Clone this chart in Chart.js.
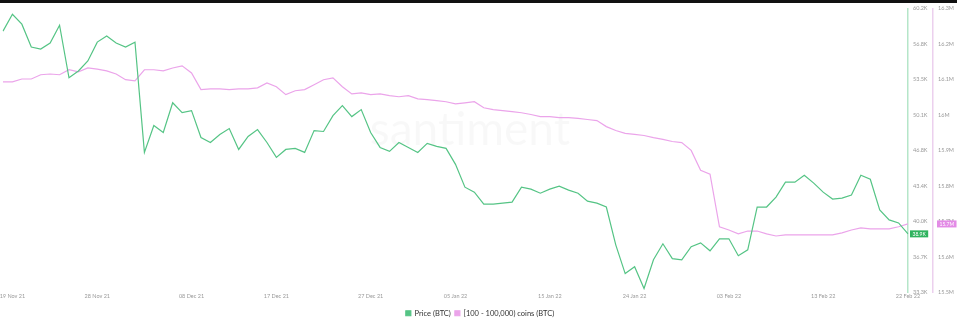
<!DOCTYPE html>
<html>
<head>
<meta charset="utf-8">
<script src="https://cdn.jsdelivr.net/npm/chart.js@4/dist/chart.umd.min.js"></script>
<style>
  html, body { margin: 0; padding: 0; background: #fff; }
  #wrap { position: relative; width: 957px; height: 324px; }
  #topbar { position: absolute; left: 0; top: 0; width: 957px; height: 3px; background: #111; }
</style>
</head>
<body>
<div id="wrap">
  <canvas id="chart" width="957" height="324"></canvas>
  <div id="topbar"></div>
</div>
<script>
// Tick labels shown on the x axis
const tickLabels = ['19 Nov 21', '28 Nov 21', '08 Dec 21', '17 Dec 21', '27 Dec 21', '05 Jan 22',
  '15 Jan 22', '24 Jan 22', '03 Feb 22', '13 Feb 22', '22 Feb 22'];

// Axis ranges (price in K USD, holdings in M BTC)
const priceRange = [33.3, 60.2];
const coinsRange = [15.5, 16.3];

// Daily BTC price, 18 Nov 21 -> 22 Feb 22 (thousands)
const priceBtc = [
  58.04, 59.64, 58.70, 56.53, 56.34, 56.91, 58.60, 53.62, 54.27, 55.21,
  57.00, 57.57, 56.91, 56.53, 57.00, 46.56, 49.10, 48.44, 51.26, 50.32,
  50.51, 47.97, 47.50, 48.25, 48.82, 46.84, 48.07, 48.72, 47.50, 46.09,
  46.84, 46.94, 46.56, 48.63, 48.54, 50.04, 50.98, 49.95, 50.61, 48.44,
  47.03, 46.66, 47.50, 47.03, 46.56, 47.41, 47.13, 46.94, 45.43, 43.27,
  42.80, 41.67, 41.67, 41.76, 41.86, 43.27, 43.08, 42.70, 43.08, 43.36,
  42.99, 42.70, 41.95, 41.76, 41.39, 37.81, 35.09, 35.74, 33.68, 36.40,
  37.91, 36.50, 36.40, 37.63, 38.00, 37.25, 38.38, 38.38, 36.78, 37.34,
  41.39, 41.39, 42.33, 43.74, 43.74, 44.40, 43.65, 42.80, 42.14, 42.23,
  42.52, 44.40, 44.02, 41.11, 40.17, 39.88, 38.85
];

// Supply held by [100 - 100,000) coin addresses (millions of BTC)
const holderCoins = [
  16.093, 16.093, 16.101, 16.101, 16.113, 16.115, 16.113, 16.127, 16.121, 16.132,
  16.129, 16.124, 16.115, 16.099, 16.096, 16.127, 16.127, 16.124, 16.132, 16.138,
  16.118, 16.071, 16.073, 16.073, 16.071, 16.073, 16.073, 16.076, 16.090, 16.079,
  16.057, 16.068, 16.071, 16.085, 16.099, 16.104, 16.079, 16.059, 16.062, 16.057,
  16.059, 16.054, 16.051, 16.054, 16.045, 16.043, 16.040, 16.037, 16.031, 16.034,
  16.037, 16.020, 16.015, 16.012, 16.009, 16.006, 16.001, 15.995, 15.995, 15.992,
  15.992, 15.990, 15.987, 15.984, 15.967, 15.956, 15.948, 15.945, 15.942, 15.936,
  15.931, 15.925, 15.922, 15.900, 15.844, 15.833, 15.685, 15.676, 15.665, 15.673,
  15.673, 15.665, 15.659, 15.662, 15.662, 15.662, 15.662, 15.662, 15.662, 15.668,
  15.676, 15.682, 15.679, 15.679, 15.679, 15.685, 15.693
];

const green = '#55c485';
const pink = '#eba4ea';

// Build one label per day
const monthNames = ['Jan', 'Feb', 'Mar', 'Apr', 'May', 'Jun', 'Jul', 'Aug', 'Sep', 'Oct', 'Nov', 'Dec'];
const dates = [];
for (let d = new Date(2021, 10, 18); dates.length < priceBtc.length; d.setDate(d.getDate() + 1)) {
  const dd = String(d.getDate()).padStart(2, '0');
  dates.push(`${dd} ${monthNames[d.getMonth()]} ${String(d.getFullYear()).slice(2)}`);
}

// Nine evenly spaced ticks on each value axis
function evenTicks(scale) {
  const ticks = [];
  for (let k = 0; k <= 8; k++) {
    ticks.push({ value: scale.min + (scale.max - scale.min) * k / 8 });
  }
  scale.ticks = ticks;
}

// Faint watermark behind the lines
const watermark = {
  id: 'watermark',
  beforeDatasetsDraw(chart) {
    const ctx = chart.ctx;
    ctx.save();
    ctx.font = '46px Lato';
    ctx.fillStyle = 'rgba(0,0,0,0.028)';
    ctx.textAlign = 'center';
    ctx.textBaseline = 'middle';
    ctx.fillText('santiment', 470, 130);
    ctx.restore();
  }
};

// Last-value badges on the two axes
const lastValueBadges = {
  id: 'lastValueBadges',
  afterDraw(chart) {
    const ctx = chart.ctx;
    const badges = [
      { scale: chart.scales.y, value: priceBtc[priceBtc.length - 1], color: '#2fb35e', text: v => v.toFixed(1) + 'K', dx: 2 },
      { scale: chart.scales.y1, value: holderCoins[holderCoins.length - 1], color: '#e38be6', text: v => v.toFixed(1) + 'M', dx: 4 }
    ];
    ctx.save();
    ctx.font = '5px Lato';
    ctx.textBaseline = 'middle';
    badges.forEach((b) => {
      const y = b.scale.getPixelForValue(b.value);
      const x = b.scale.left + b.dx;
      const txt = b.text(b.value);
      const w = ctx.measureText(txt).width + 5;
      ctx.fillStyle = b.color;
      ctx.fillRect(x, y - 3.5, w, 7);
      ctx.fillStyle = '#fff';
      ctx.fillText(txt, x + 2.5, y + 0.5);
    });
    ctx.restore();
  }
};

new Chart(document.getElementById('chart').getContext('2d'), {
  type: 'line',
  data: {
    labels: dates,
    datasets: [
      {
        label: 'Price (BTC)',
        data: priceBtc,
        yAxisID: 'y',
        borderColor: green,
        backgroundColor: green,
        borderWidth: 1.2,
        pointRadius: 0,
        tension: 0
      },
      {
        label: '[100 - 100,000) coins (BTC)',
        data: holderCoins,
        yAxisID: 'y1',
        borderColor: pink,
        backgroundColor: pink,
        borderWidth: 1.2,
        pointRadius: 0,
        tension: 0
      }
    ]
  },
  options: {
    responsive: false,
    animation: false,
    layout: { padding: { top: 5, left: 3, right: 0, bottom: -3 } },
    plugins: {
      legend: {
        position: 'bottom',
        labels: {
          boxWidth: 5,
          boxHeight: 5,
          padding: 4,
          color: '#333',
          font: { family: 'Lato', size: 7.5 }
        }
      },
      tooltip: { enabled: false }
    },
    scales: {
      x: {
        grid: { display: false },
        border: { display: false },
        ticks: {
          autoSkip: false,
          maxRotation: 0,
          padding: -8,
          color: '#9a9a9a',
          font: { family: 'Lato', size: 5.5 },
          callback: function (value) {
            const lbl = this.getLabelForValue(value);
            return tickLabels.includes(lbl) ? lbl : '';
          }
        },
        afterFit: (scale) => { scale.height = 13; }
      },
      y: {
        position: 'right',
        min: priceRange[0],
        max: priceRange[1],
        grid: { display: false, drawTicks: false },
        border: { display: true, color: '#b5e6c9', width: 1.5 },
        afterBuildTicks: evenTicks,
        ticks: {
          padding: 5,
          color: '#9a9a9a',
          font: { family: 'Lato', size: 5.5 },
          callback: (v) => v.toFixed(1) + 'K'
        },
        afterFit: (scale) => { scale.width = 25; }
      },
      y1: {
        position: 'right',
        min: coinsRange[0],
        max: coinsRange[1],
        grid: { display: false, drawTicks: false },
        border: { display: true, color: '#ecd0ee', width: 1.5 },
        afterBuildTicks: evenTicks,
        ticks: {
          padding: 5,
          color: '#9a9a9a',
          font: { family: 'Lato', size: 5.5 },
          callback: (v) => parseFloat(v.toFixed(1)) + 'M'
        },
        afterFit: (scale) => { scale.width = 24; }
      }
    }
  },
  plugins: [watermark, lastValueBadges]
});
</script>
</body>
</html>
